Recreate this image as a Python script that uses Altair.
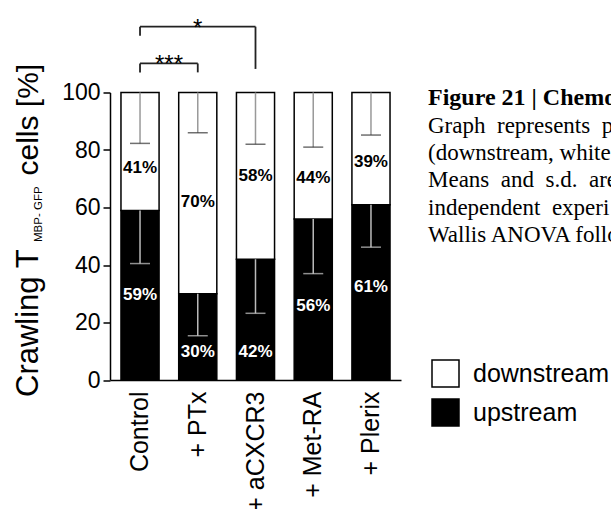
import altair as alt
import pandas as pd

categories = ["Control", "+ PTx", "+ aCXCR3", "+ Met-RA", "+ Plerix"]
upstream = [59, 30, 42, 56, 61]
downstream = [41, 70, 58, 44, 39]
up_sd = [18.5, 14.6, 18.8, 19.0, 14.8]
down_sd = [17.7, 14.0, 18.0, 19.0, 14.8]
up_label_pos = [29.6, 9.9, 9.9, 25.9, 32.5]
down_label_pos = [73.6, 62.0, 71.0, 70.4, 75.9]
y_ticks = [0, 20, 40, 60, 80, 100]
segments = ["downstream", "upstream"]

br_left = ["Control", "Control"]
br_right = ["+ PTx", "+ aCXCR3"]
br_level = [110.1, 122.9]
br_left_end = [107.0, 119.7]
br_right_end = [107.0, 108.2]
br_text = ["***", "*"]

caption_title = "Figure 21 | Chemo"
caption_lines = [
    "Graph \u00a0represents \u00a0pe",
    "(downstream, white",
    "Means \u00a0and \u00a0s.d. \u00a0are",
    "independent \u00a0experi",
    "Wallis ANOVA follo",
]

SANS = "Liberation Sans"
SERIF = "Liberation Serif"

bars = []
for c, u in zip(categories, upstream):
    bars.append({"cat": c, "seg": "upstream", "y0": 0, "y1": u})
    bars.append({"cat": c, "seg": "downstream", "y0": u, "y1": 100})
bars_df = pd.DataFrame(bars)

err_df = pd.DataFrame({
    "cat": categories,
    "up_top": upstream,
    "up_lo": [u - s for u, s in zip(upstream, up_sd)],
    "dn_top": [100] * len(categories),
    "dn_lo": [100 - s for s in down_sd],
})

lab_df = pd.DataFrame({
    "cat": categories * 2,
    "pos": up_label_pos + down_label_pos,
    "txt": [f"{v}%" for v in upstream] + [f"{v}%" for v in downstream],
    "seg": ["upstream"] * 5 + ["downstream"] * 5,
})

x_scale = alt.Scale(domain=categories, paddingInner=0.34, paddingOuter=0.19)
y_scale = alt.Scale(domain=[0, 100])
x_axis = alt.Axis(labelAngle=270, labelFontSize=25, labelFont=SANS, labelColor="black",
                  ticks=False, labelPadding=11, domainWidth=1.5, domainColor="black",
                  title=None, grid=False)
y_axis = alt.Axis(values=y_ticks, tickSize=7, tickWidth=1.5, tickColor="black",
                  domainWidth=1.5, domainColor="black", labelFontSize=23, labelFont=SANS,
                  labelColor="black", labelPadding=3, grid=False, title=None)


def X(field):
    return alt.X(f"{field}:N", scale=x_scale, axis=x_axis)


def Y(field):
    return alt.Y(f"{field}:Q", scale=y_scale, axis=y_axis)


bar_layer = alt.Chart(bars_df).mark_bar(stroke="black", strokeWidth=1.5).encode(
    x=X("cat"),
    y=Y("y0"),
    y2="y1:Q",
    fill=alt.Fill("seg:N", scale=alt.Scale(domain=segments, range=["white", "black"]),
                  legend=alt.Legend(orient="none", legendX=321, legendY=266.5, title=None,
                                    symbolType="square", symbolSize=729,
                                    symbolStrokeColor="black", symbolStrokeWidth=1.5,
                                    labelFontSize=25, labelFont=SANS, labelColor="black",
                                    rowPadding=6, labelOffset=13, padding=0)),
)

dn_line = alt.Chart(err_df).mark_rule(color="#999999", strokeWidth=1.5).encode(
    x=X("cat"), y=Y("dn_top"), y2="dn_lo:Q")
dn_cap = alt.Chart(err_df).mark_tick(color="#333333", size=20, thickness=1.5).encode(
    x=X("cat"), y=Y("dn_lo"))
up_line = alt.Chart(err_df).mark_rule(color="#bbbbbb", strokeWidth=1.5).encode(
    x=X("cat"), y=Y("up_top"), y2="up_lo:Q")
up_cap = alt.Chart(err_df).mark_tick(color="#cccccc", size=20, thickness=1.5).encode(
    x=X("cat"), y=Y("up_lo"))

labels = alt.Chart(lab_df).mark_text(font=SANS, fontSize=17, fontWeight="bold",
                                      baseline="middle").encode(
    x=X("cat"), y=Y("pos"), text="txt:N",
    color=alt.Color("seg:N", scale=alt.Scale(domain=segments, range=["black", "white"]),
                    legend=None),
)

br_df = pd.DataFrame({"l": br_left, "r": br_right, "lev": br_level})
br_h = alt.Chart(br_df).mark_rule(color="#222222", strokeWidth=1.8).encode(
    x=X("l"), x2="r:N", y=Y("lev"))
legs_df = pd.DataFrame({
    "cat": br_left + br_right,
    "lev": br_level + br_level,
    "end": br_left_end + br_right_end,
})
br_v = alt.Chart(legs_df).mark_rule(color="#222222", strokeWidth=1.8).encode(
    x=X("cat"), y=Y("lev"), y2="end:Q")
star3 = alt.Chart(pd.DataFrame({"cat": [br_left[0]], "lev": [br_level[0]], "t": [br_text[0]]})).mark_text(
    font=SANS, fontSize=24, baseline="alphabetic", dx=29, dy=9).encode(
    x=X("cat"), y=Y("lev"), text="t:N")
star1 = alt.Chart(pd.DataFrame({"cat": ["+ PTx"], "lev": [br_level[1]], "t": [br_text[1]]})).mark_text(
    font=SANS, fontSize=24, baseline="alphabetic", dy=9).encode(
    x=X("cat"), y=Y("lev"), text="t:N")

one = pd.DataFrame({"a": [0]})
yt1 = alt.Chart(one).mark_text(text="Crawling T", font=SANS, fontSize=31, angle=270,
                               align="left", baseline="alphabetic").encode(
    x=alt.value(-71.7), y=alt.value(304.5))
yt2 = alt.Chart(one).mark_text(text="MBP- GFP", font=SANS, fontSize=11.5, angle=270,
                               align="left", baseline="alphabetic").encode(
    x=alt.value(-68.3), y=alt.value(149.5))
yt3 = alt.Chart(one).mark_text(text="cells [%]", font=SANS, fontSize=30, angle=270,
                               align="left", baseline="alphabetic").encode(
    x=alt.value(-71.7), y=alt.value(83))

cap1 = alt.Chart(one).mark_text(text=caption_title, font=SERIF, fontSize=24, fontWeight="bold",
                                align="left", baseline="alphabetic").encode(
    x=alt.value(318), y=alt.value(12.5))
cap2 = alt.Chart(one).mark_text(text="\n".join(caption_lines), lineBreak="\n", lineHeight=27.2,
                                font=SERIF, fontSize=23, align="left",
                                baseline="alphabetic").encode(
    x=alt.value(318), y=alt.value(40.5))

chart = alt.layer(
    bar_layer, dn_line, dn_cap, up_line, up_cap, labels, br_h, br_v, star3, star1,
    yt1, yt2, yt3, cap1, cap2,
).resolve_scale(color="independent").properties(
    width=291, height=287.5,
    padding={"left": 110, "top": 92.5, "right": 210, "bottom": 129},
    autosize="none",
).configure_view(stroke=None)

chart.save("out.html", embed_options={"renderer": "svg", "actions": False})
